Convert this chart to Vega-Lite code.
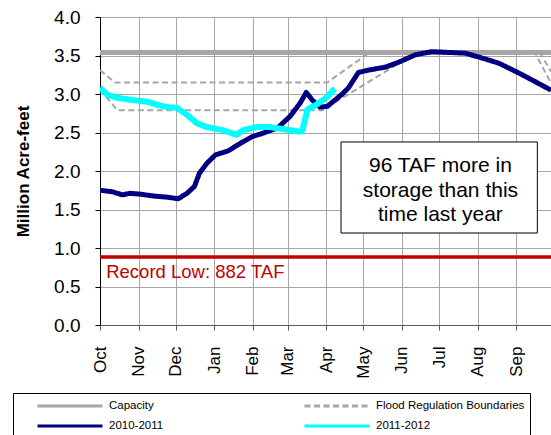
{
  "$schema": "https://vega.github.io/schema/vega-lite/v6.json",
  "width": 451,
  "height": 308,
  "autosize": {"type": "none"},
  "padding": {"left": 100, "top": 17, "right": 0, "bottom": 110},
  "background": "white",
  "config": {
    "view": {"stroke": null},
    "font": "Liberation Sans",
    "axis": {"gridColor": "#a6a6a6", "gridWidth": 1, "labelColor": "black", "labelFont": "Liberation Sans", "titleFont": "Liberation Sans", "titleColor": "black"},
    "axisY": {"labelOverlap": false, "labelFlush": false, "tickCount": 9, "labelFontSize": 19, "labelPadding": 15, "tickSize": 5, "domainColor": "black", "tickColor": "black"}
  },
  "datasets": {
    "lines": [
      {"series": "Capacity", "date": "2010-10-01", "value": 3.54},
      {"series": "Capacity", "date": "2011-09-30", "value": 3.54},
      {"series": "2010-2011", "date": "2010-10-01", "value": 1.75},
      {"series": "2010-2011", "date": "2010-10-11", "value": 1.73},
      {"series": "2010-2011", "date": "2010-10-19", "value": 1.69},
      {"series": "2010-2011", "date": "2010-10-25", "value": 1.71},
      {"series": "2010-2011", "date": "2010-11-02", "value": 1.70},
      {"series": "2010-2011", "date": "2010-11-13", "value": 1.675},
      {"series": "2010-2011", "date": "2010-11-24", "value": 1.66},
      {"series": "2010-2011", "date": "2010-12-03", "value": 1.64},
      {"series": "2010-2011", "date": "2010-12-10", "value": 1.71},
      {"series": "2010-2011", "date": "2010-12-16", "value": 1.80},
      {"series": "2010-2011", "date": "2010-12-20", "value": 1.97},
      {"series": "2010-2011", "date": "2010-12-26", "value": 2.10},
      {"series": "2010-2011", "date": "2011-01-02", "value": 2.21},
      {"series": "2010-2011", "date": "2011-01-12", "value": 2.26},
      {"series": "2010-2011", "date": "2011-01-22", "value": 2.36},
      {"series": "2010-2011", "date": "2011-02-01", "value": 2.45},
      {"series": "2010-2011", "date": "2011-02-09", "value": 2.49},
      {"series": "2010-2011", "date": "2011-02-21", "value": 2.56},
      {"series": "2010-2011", "date": "2011-03-03", "value": 2.71},
      {"series": "2010-2011", "date": "2011-03-11", "value": 2.88},
      {"series": "2010-2011", "date": "2011-03-16", "value": 3.02},
      {"series": "2010-2011", "date": "2011-03-21", "value": 2.92},
      {"series": "2010-2011", "date": "2011-03-27", "value": 2.83},
      {"series": "2010-2011", "date": "2011-04-02", "value": 2.84},
      {"series": "2010-2011", "date": "2011-04-08", "value": 2.92},
      {"series": "2010-2011", "date": "2011-04-14", "value": 3.00},
      {"series": "2010-2011", "date": "2011-04-19", "value": 3.08},
      {"series": "2010-2011", "date": "2011-04-27", "value": 3.28},
      {"series": "2010-2011", "date": "2011-05-05", "value": 3.31},
      {"series": "2010-2011", "date": "2011-05-19", "value": 3.35},
      {"series": "2010-2011", "date": "2011-05-29", "value": 3.41},
      {"series": "2010-2011", "date": "2011-06-12", "value": 3.51},
      {"series": "2010-2011", "date": "2011-06-25", "value": 3.55},
      {"series": "2010-2011", "date": "2011-07-22", "value": 3.53},
      {"series": "2010-2011", "date": "2011-08-04", "value": 3.47},
      {"series": "2010-2011", "date": "2011-08-18", "value": 3.40},
      {"series": "2010-2011", "date": "2011-09-01", "value": 3.29},
      {"series": "2010-2011", "date": "2011-09-14", "value": 3.18},
      {"series": "2010-2011", "date": "2011-09-29", "value": 3.05},
      {"series": "2011-2012", "date": "2010-10-01", "value": 3.08},
      {"series": "2011-2012", "date": "2010-10-07", "value": 2.99},
      {"series": "2011-2012", "date": "2010-10-15", "value": 2.95},
      {"series": "2011-2012", "date": "2010-10-28", "value": 2.92},
      {"series": "2011-2012", "date": "2010-11-08", "value": 2.90},
      {"series": "2011-2012", "date": "2010-11-16", "value": 2.86},
      {"series": "2011-2012", "date": "2010-11-24", "value": 2.83},
      {"series": "2011-2012", "date": "2010-12-02", "value": 2.82},
      {"series": "2011-2012", "date": "2010-12-10", "value": 2.73},
      {"series": "2011-2012", "date": "2010-12-18", "value": 2.62},
      {"series": "2011-2012", "date": "2010-12-26", "value": 2.57},
      {"series": "2011-2012", "date": "2011-01-08", "value": 2.53},
      {"series": "2011-2012", "date": "2011-01-19", "value": 2.47},
      {"series": "2011-2012", "date": "2011-01-24", "value": 2.53},
      {"series": "2011-2012", "date": "2011-02-04", "value": 2.57},
      {"series": "2011-2012", "date": "2011-02-15", "value": 2.57},
      {"series": "2011-2012", "date": "2011-02-25", "value": 2.545},
      {"series": "2011-2012", "date": "2011-03-11", "value": 2.51},
      {"series": "2011-2012", "date": "2011-03-13", "value": 2.53},
      {"series": "2011-2012", "date": "2011-03-17", "value": 2.80},
      {"series": "2011-2012", "date": "2011-03-24", "value": 2.86},
      {"series": "2011-2012", "date": "2011-04-01", "value": 2.95},
      {"series": "2011-2012", "date": "2011-04-08", "value": 3.07}
    ],
    "flood": [
      {"series": "Flood Regulation Boundaries", "boundary": "upper", "date": "2010-10-01", "value": 3.31},
      {"series": "Flood Regulation Boundaries", "boundary": "upper", "date": "2010-10-13", "value": 3.15},
      {"series": "Flood Regulation Boundaries", "boundary": "upper", "date": "2011-04-02", "value": 3.15},
      {"series": "Flood Regulation Boundaries", "boundary": "upper", "date": "2011-05-06", "value": 3.54},
      {"series": "Flood Regulation Boundaries", "boundary": "upper", "date": "2011-09-16", "value": 3.54},
      {"series": "Flood Regulation Boundaries", "boundary": "upper", "date": "2011-09-29", "value": 3.14},
      {"series": "Flood Regulation Boundaries", "boundary": "lower", "date": "2010-10-01", "value": 3.06},
      {"series": "Flood Regulation Boundaries", "boundary": "lower", "date": "2010-10-15", "value": 2.79},
      {"series": "Flood Regulation Boundaries", "boundary": "lower", "date": "2011-03-29", "value": 2.79},
      {"series": "Flood Regulation Boundaries", "boundary": "lower", "date": "2011-06-13", "value": 3.54},
      {"series": "Flood Regulation Boundaries", "boundary": "lower", "date": "2011-09-20", "value": 3.54},
      {"series": "Flood Regulation Boundaries", "boundary": "lower", "date": "2011-09-29", "value": 3.29}
    ],
    "recordLow": [
      {"value": 0.882, "label": "Record Low: 882 TAF", "date": "2010-10-06", "labelValue": 0.61}
    ],
    "note": [
      {"start": "2011-04-13", "end": "2011-09-18", "top": 2.377, "bottom": 1.195}
    ],
    "noteText": [
      {"text": "96 TAF more in", "date": "2011-07-02", "value": 1.99},
      {"text": "storage than this", "date": "2011-07-02", "value": 1.668},
      {"text": "time last year", "date": "2011-07-02", "value": 1.345}
    ]
  },
  "layer": [
    {
      "data": {"name": "lines"},
      "transform": [{"filter": "datum.series === 'Capacity'"}],
      "mark": {"type": "line", "strokeWidth": 5, "clip": true},
      "encoding": {
        "x": {
          "field": "date", "type": "temporal",
          "scale": {"type": "utc", "domain": [{"year": 2010, "month": 10, "date": 1, "utc": true}, {"year": 2011, "month": 9, "date": 29, "utc": true}]},
          "axis": {
            "title": null,
            "values": [
              {"year": 2010, "month": 10, "date": 1, "utc": true},
              {"year": 2010, "month": 11, "date": 1, "utc": true},
              {"year": 2010, "month": 12, "date": 1, "utc": true},
              {"year": 2011, "month": 1, "date": 1, "utc": true},
              {"year": 2011, "month": 2, "date": 1, "utc": true},
              {"year": 2011, "month": 3, "date": 1, "utc": true},
              {"year": 2011, "month": 4, "date": 1, "utc": true},
              {"year": 2011, "month": 5, "date": 1, "utc": true},
              {"year": 2011, "month": 6, "date": 1, "utc": true},
              {"year": 2011, "month": 7, "date": 1, "utc": true},
              {"year": 2011, "month": 8, "date": 1, "utc": true},
              {"year": 2011, "month": 9, "date": 1, "utc": true}
            ],
            "labelExpr": "utcFormat(datum.value, '%b')",
            "labelAngle": -90, "labelAlign": "right", "labelBaseline": "middle",
            "labelFontSize": 17, "labelPadding": 16, "tickSize": 5,
            "domainColor": "#595959", "tickColor": "#595959", "labelOverlap": false, "labelFlush": false
          }
        },
        "y": {
          "field": "value", "type": "quantitative",
          "scale": {"domain": [0, 4], "nice": false},
          "axis": {
            "title": "Million Acre-feet", "titleFontSize": 17, "titleFontWeight": "bold", "titlePadding": 21,
            "values": [0, 0.5, 1, 1.5, 2, 2.5, 3, 3.5, 4], "tickCount": 9, "format": ".1f", "labelOverlap": false, "labelFlush": false
          }
        },
        "color": {
          "field": "series", "type": "nominal",
          "scale": {"domain": ["Capacity", "2010-2011", "Flood Regulation Boundaries", "2011-2012"], "range": ["#a6a6a6", "#000080", "#a6a6a6", "#00ffff"]},
          "legend": {
            "orient": "none", "legendX": -87, "legendY": 376, "columns": 2, "title": null,
            "symbolType": "M-5,0H5", "symbolSize": 169, "symbolStrokeWidth": 3,
            "labelFontSize": 11.5, "labelFont": "Liberation Sans", "labelColor": "black",
            "columnPadding": 121, "rowPadding": 6, "padding": 5, "symbolOffset": 44, "labelOffset": 31,
            "strokeColor": "black", "fillColor": "white"
          }
        },
        "strokeDash": {
          "field": "series", "type": "nominal",
          "scale": {"domain": ["Capacity", "2010-2011", "Flood Regulation Boundaries", "2011-2012"], "range": [[1, 0], [1, 0], [6, 3.5], [1, 0]]}
        }
      }
    },
    {
      "data": {"name": "flood"},
      "mark": {"type": "line", "strokeWidth": 2, "clip": true},
      "encoding": {
        "x": {"field": "date", "type": "temporal"},
        "y": {"field": "value", "type": "quantitative"},
        "detail": {"field": "boundary"},
        "color": {"field": "series", "type": "nominal"},
        "strokeDash": {"field": "series", "type": "nominal"}
      }
    },
    {
      "data": {"name": "recordLow"},
      "mark": {"type": "rule", "color": "#c00000", "strokeWidth": 3.5},
      "encoding": {"y": {"field": "value", "type": "quantitative"}}
    },
    {
      "data": {"name": "recordLow"},
      "mark": {"type": "text", "align": "left", "baseline": "alphabetic", "fontSize": 18.5, "color": "#c00000", "font": "Liberation Sans"},
      "encoding": {
        "x": {"field": "date", "type": "temporal"},
        "y": {"field": "labelValue", "type": "quantitative"},
        "text": {"field": "label"}
      }
    },
    {
      "data": {"name": "lines"},
      "transform": [{"filter": "datum.series === '2010-2011'"}],
      "mark": {"type": "line", "strokeWidth": 5, "strokeJoin": "round", "clip": true},
      "encoding": {
        "x": {"field": "date", "type": "temporal"},
        "y": {"field": "value", "type": "quantitative"},
        "color": {"field": "series", "type": "nominal"},
        "strokeDash": {"field": "series", "type": "nominal"}
      }
    },
    {
      "data": {"name": "lines"},
      "transform": [{"filter": "datum.series === '2011-2012'"}],
      "mark": {"type": "line", "strokeWidth": 6, "strokeJoin": "round", "clip": true},
      "encoding": {
        "x": {"field": "date", "type": "temporal"},
        "y": {"field": "value", "type": "quantitative"},
        "color": {"field": "series", "type": "nominal"},
        "strokeDash": {"field": "series", "type": "nominal"}
      }
    },
    {
      "data": {"name": "note"},
      "mark": {"type": "rect", "fill": "white", "stroke": "black", "strokeWidth": 1},
      "encoding": {
        "x": {"field": "start", "type": "temporal"},
        "x2": {"field": "end"},
        "y": {"field": "top", "type": "quantitative"},
        "y2": {"field": "bottom"}
      }
    },
    {
      "data": {"name": "noteText"},
      "mark": {"type": "text", "align": "center", "baseline": "alphabetic", "fontSize": 21, "color": "black", "font": "Liberation Sans"},
      "encoding": {
        "x": {"field": "date", "type": "temporal"},
        "y": {"field": "value", "type": "quantitative"},
        "text": {"field": "text"}
      }
    }
  ]
}
